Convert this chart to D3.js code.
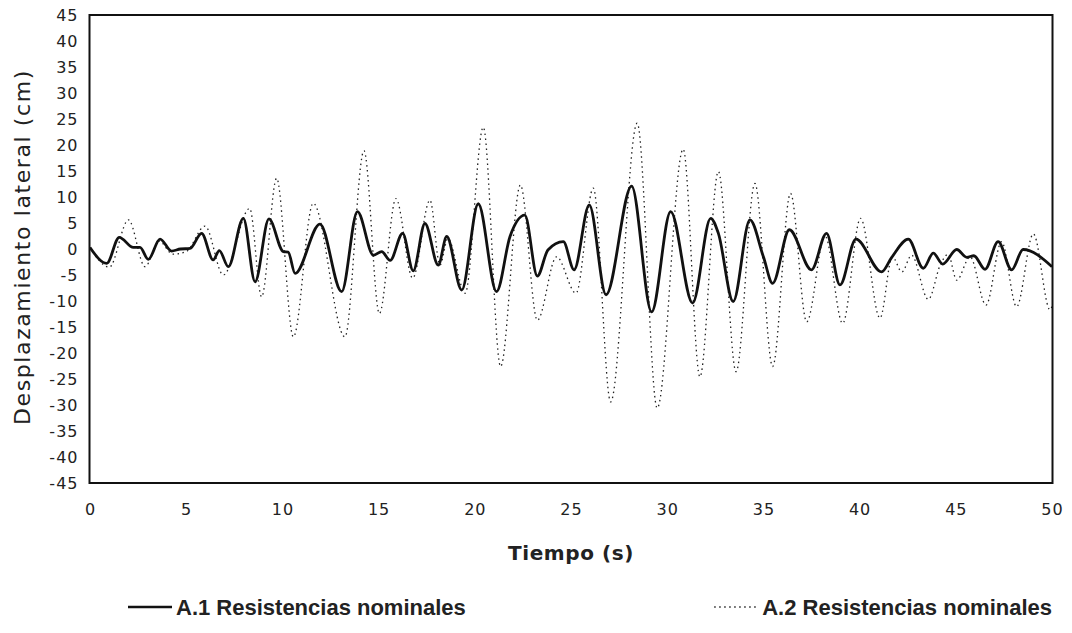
<!DOCTYPE html>
<html>
<head>
<meta charset="utf-8">
<script src="https://cdn.jsdelivr.net/npm/d3@7/dist/d3.min.js"></script>
<style>
  html, body { margin: 0; padding: 0; background: #fff; }
  svg { display: block; }
  text { font-family: "DejaVu Sans", "Liberation Sans", sans-serif; fill: #222; }
</style>
</head>
<body>
<svg id="chart" width="1072" height="633"></svg>
<script>
// ---- Data ----
const xTicks = [0, 5, 10, 15, 20, 25, 30, 35, 40, 45, 50];
const yTicks = [45, 40, 35, 30, 25, 20, 15, 10, 5, 0, -5, -10, -15, -20, -25, -30, -35, -40, -45];

// A.1 Resistencias nominales (solid)
const a1Time = [0, 0.87, 1.52, 2.25, 2.6, 3.03, 3.64, 4.24, 4.7, 5.2, 5.8, 6.4, 6.72, 7.19, 7.97, 8.58, 9.3,
  10.05, 10.3, 10.66, 11.95, 13.08, 13.9, 14.73, 15.16, 15.6, 16.25, 16.8, 17.41, 18.1, 18.54, 19.32,
  20.18, 21.13, 21.83, 22.6, 23.25, 23.8, 24.6, 25.16, 25.95, 26.82, 28.15, 29.19, 30.18, 31.32, 32.26,
  32.66, 33.43, 34.3, 35.0, 35.48, 36.35, 37.5, 38.28, 38.98, 39.81, 41.14, 41.67, 42.53, 43.31, 43.83,
  44.32, 45.05, 45.57, 45.94, 46.52, 47.2, 47.9, 48.5, 50];
const a1Disp = [0.3, -2.75, 2.25, 0.3, 0.3, -2.0, 1.9, -0.4, 0, 0.1, 3.0, -2.1, -0.3, -3.4, 5.9, -6.3, 5.8,
  -0.5, -0.6, -4.7, 4.8, -8.2, 7.2, -1.2, -0.5, -2.2, 3.0, -4.2, 4.9, -3.1, 2.4, -7.9,
  8.7, -8.2, 2.4, 6.5, -5.2, -0.2, 1.4, -4.0, 8.5, -8.8, 12.1, -12.1, 7.2, -10.4, 5.9,
  3.0, -10.1, 5.6, -1.5, -6.6, 3.7, -4.0, 3.0, -6.9, 1.9, -4.4, -1.6, 1.9, -3.7, -0.8,
  -2.9, -0.1, -1.6, -1.3, -3.9, 1.4, -4.0, -0.1, -3.4];

// A.2 Resistencias nominales (dotted)
const a2Time = [0, 1.0, 2.0, 2.86, 3.6, 4.3, 5.0, 5.98, 6.93, 8.3, 8.92, 9.7, 10.57, 11.6, 13.25, 14.24,
  15.04, 15.9, 16.77, 17.67, 18.19, 18.6, 19.5, 20.44, 21.34, 22.37, 23.25, 24.25, 25.26, 26.16, 27.06,
  28.44, 29.48, 30.83, 31.7, 32.66, 33.58, 34.56, 35.48, 36.41, 37.25, 38.2, 39.12, 40.05, 41.06, 41.7,
  42.2, 42.7, 43.57, 44.2, 44.6, 45.05, 45.74, 46.57, 47.38, 48.16, 49.03, 49.9, 50];
const a2Disp = [0.3, -3.5, 5.6, -3.4, 1.5, -1.0, -0.5, 4.4, -5.0, 7.8, -9.2, 13.6, -16.9, 8.8, -16.9, 18.9,
  -12.4, 9.7, -5.6, 9.4, -3.1, 2.0, -8.5, 23.4, -22.6, 12.3, -13.7, -1.5, -8.5, 11.7, -29.4,
  24.2, -30.6, 19.2, -24.6, 14.9, -23.6, 12.6, -22.6, 10.7, -14.0, 2.5, -14.3, 5.9, -13.3, -1.5,
  -4.4, -1.2, -9.7, -3.0, -1.0, -6.0, -1.5, -10.8, 1.4, -11.1, 2.9, -11.7, -11.0];

const seriesNames = ["A.1 Resistencias nominales", "A.2 Resistencias nominales"];
const xTitle = "Tiempo (s)";
const yTitle = "Desplazamiento lateral (cm)";

// ---- Layout ----
const svg = d3.select("#chart");
const plot = { left: 89.5, right: 1052.5, top: 15, bottom: 483 };

const x = d3.scaleLinear().domain([0, 50]).range([plot.left + 0.5, plot.right - 0.5]);
const y = d3.scaleLinear().domain([-45, 45]).range([plot.bottom, plot.top]);

svg.append("defs").append("clipPath").attr("id", "clip")
  .append("rect")
  .attr("x", plot.left).attr("y", plot.top)
  .attr("width", plot.right - plot.left).attr("height", plot.bottom - plot.top);

// Axes (labels only, no tick marks)
const xAxis = d3.axisBottom(x).tickValues(xTicks).tickSize(0).tickPadding(21).tickFormat(d => String(d));
const yAxis = d3.axisLeft(y).tickValues(yTicks).tickSize(0).tickPadding(11).tickFormat(d => String(d));

const gx = svg.append("g").attr("transform", `translate(0,${plot.bottom})`).call(xAxis);
gx.select(".domain").remove();
gx.selectAll("text").style("font-size", "16px").style("font-family", "DejaVu Sans, sans-serif")
  .style("letter-spacing", "1px").attr("fill", "#333");

const gy = svg.append("g").attr("transform", `translate(${plot.left},0)`).call(yAxis);
gy.select(".domain").remove();
gy.selectAll("text").style("font-size", "16px").style("font-family", "DejaVu Sans, sans-serif")
  .style("letter-spacing", "1px").attr("fill", "#333");

// Lines
const a2 = a2Time.map((t, i) => [t, a2Disp[i]]);
const a1 = a1Time.map((t, i) => [t, a1Disp[i]]);
const line = d3.line().x(d => x(d[0])).y(d => y(d[1])).curve(d3.curveMonotoneX);

const lines = svg.append("g").attr("clip-path", "url(#clip)");
lines.append("path").datum(a2)
  .attr("d", line).attr("fill", "none")
  .attr("stroke", "#222").attr("stroke-width", 1.3)
  .attr("stroke-dasharray", "1.5,3.5");
lines.append("path").datum(a1)
  .attr("d", line).attr("fill", "none")
  .attr("stroke", "#111").attr("stroke-width", 2.8)
  .attr("stroke-linejoin", "round");

// Frame
svg.append("rect")
  .attr("x", plot.left).attr("y", plot.top)
  .attr("width", plot.right - plot.left).attr("height", plot.bottom - plot.top)
  .attr("fill", "none").attr("stroke", "#111").attr("stroke-width", 2);

// Titles
svg.append("text")
  .attr("x", (plot.left + plot.right) / 2).attr("y", 560)
  .attr("text-anchor", "middle")
  .style("font-size", "20px").style("font-weight", "bold").style("letter-spacing", "0.6px")
  .text(xTitle);

svg.append("text")
  .attr("transform", `translate(30,247) rotate(-90)`)
  .attr("text-anchor", "middle")
  .style("font-size", "22px").style("letter-spacing", "1.6px")
  .text(yTitle);

// Legend
const legendFont = "Liberation Sans, Arial, sans-serif";
const legend = svg.append("g");
legend.append("line").attr("x1", 128).attr("x2", 172).attr("y1", 607).attr("y2", 607)
  .attr("stroke", "#111").attr("stroke-width", 2.4);
legend.append("text").attr("x", 176).attr("y", 615)
  .style("font-family", legendFont)
  .style("font-size", "22px").style("font-weight", "bold").text(seriesNames[0]);
const t2 = legend.append("text").attr("x", 1052).attr("y", 615)
  .attr("text-anchor", "end")
  .style("font-family", legendFont)
  .style("font-size", "22px").style("font-weight", "bold").text(seriesNames[1]);
const t2w = t2.node().getComputedTextLength();
legend.append("line").attr("x1", 1052 - t2w - 48).attr("x2", 1052 - t2w - 6).attr("y1", 607).attr("y2", 607)
  .attr("stroke", "#222").attr("stroke-width", 1.3).attr("stroke-dasharray", "1.5,3.5");
</script>
</body>
</html>
